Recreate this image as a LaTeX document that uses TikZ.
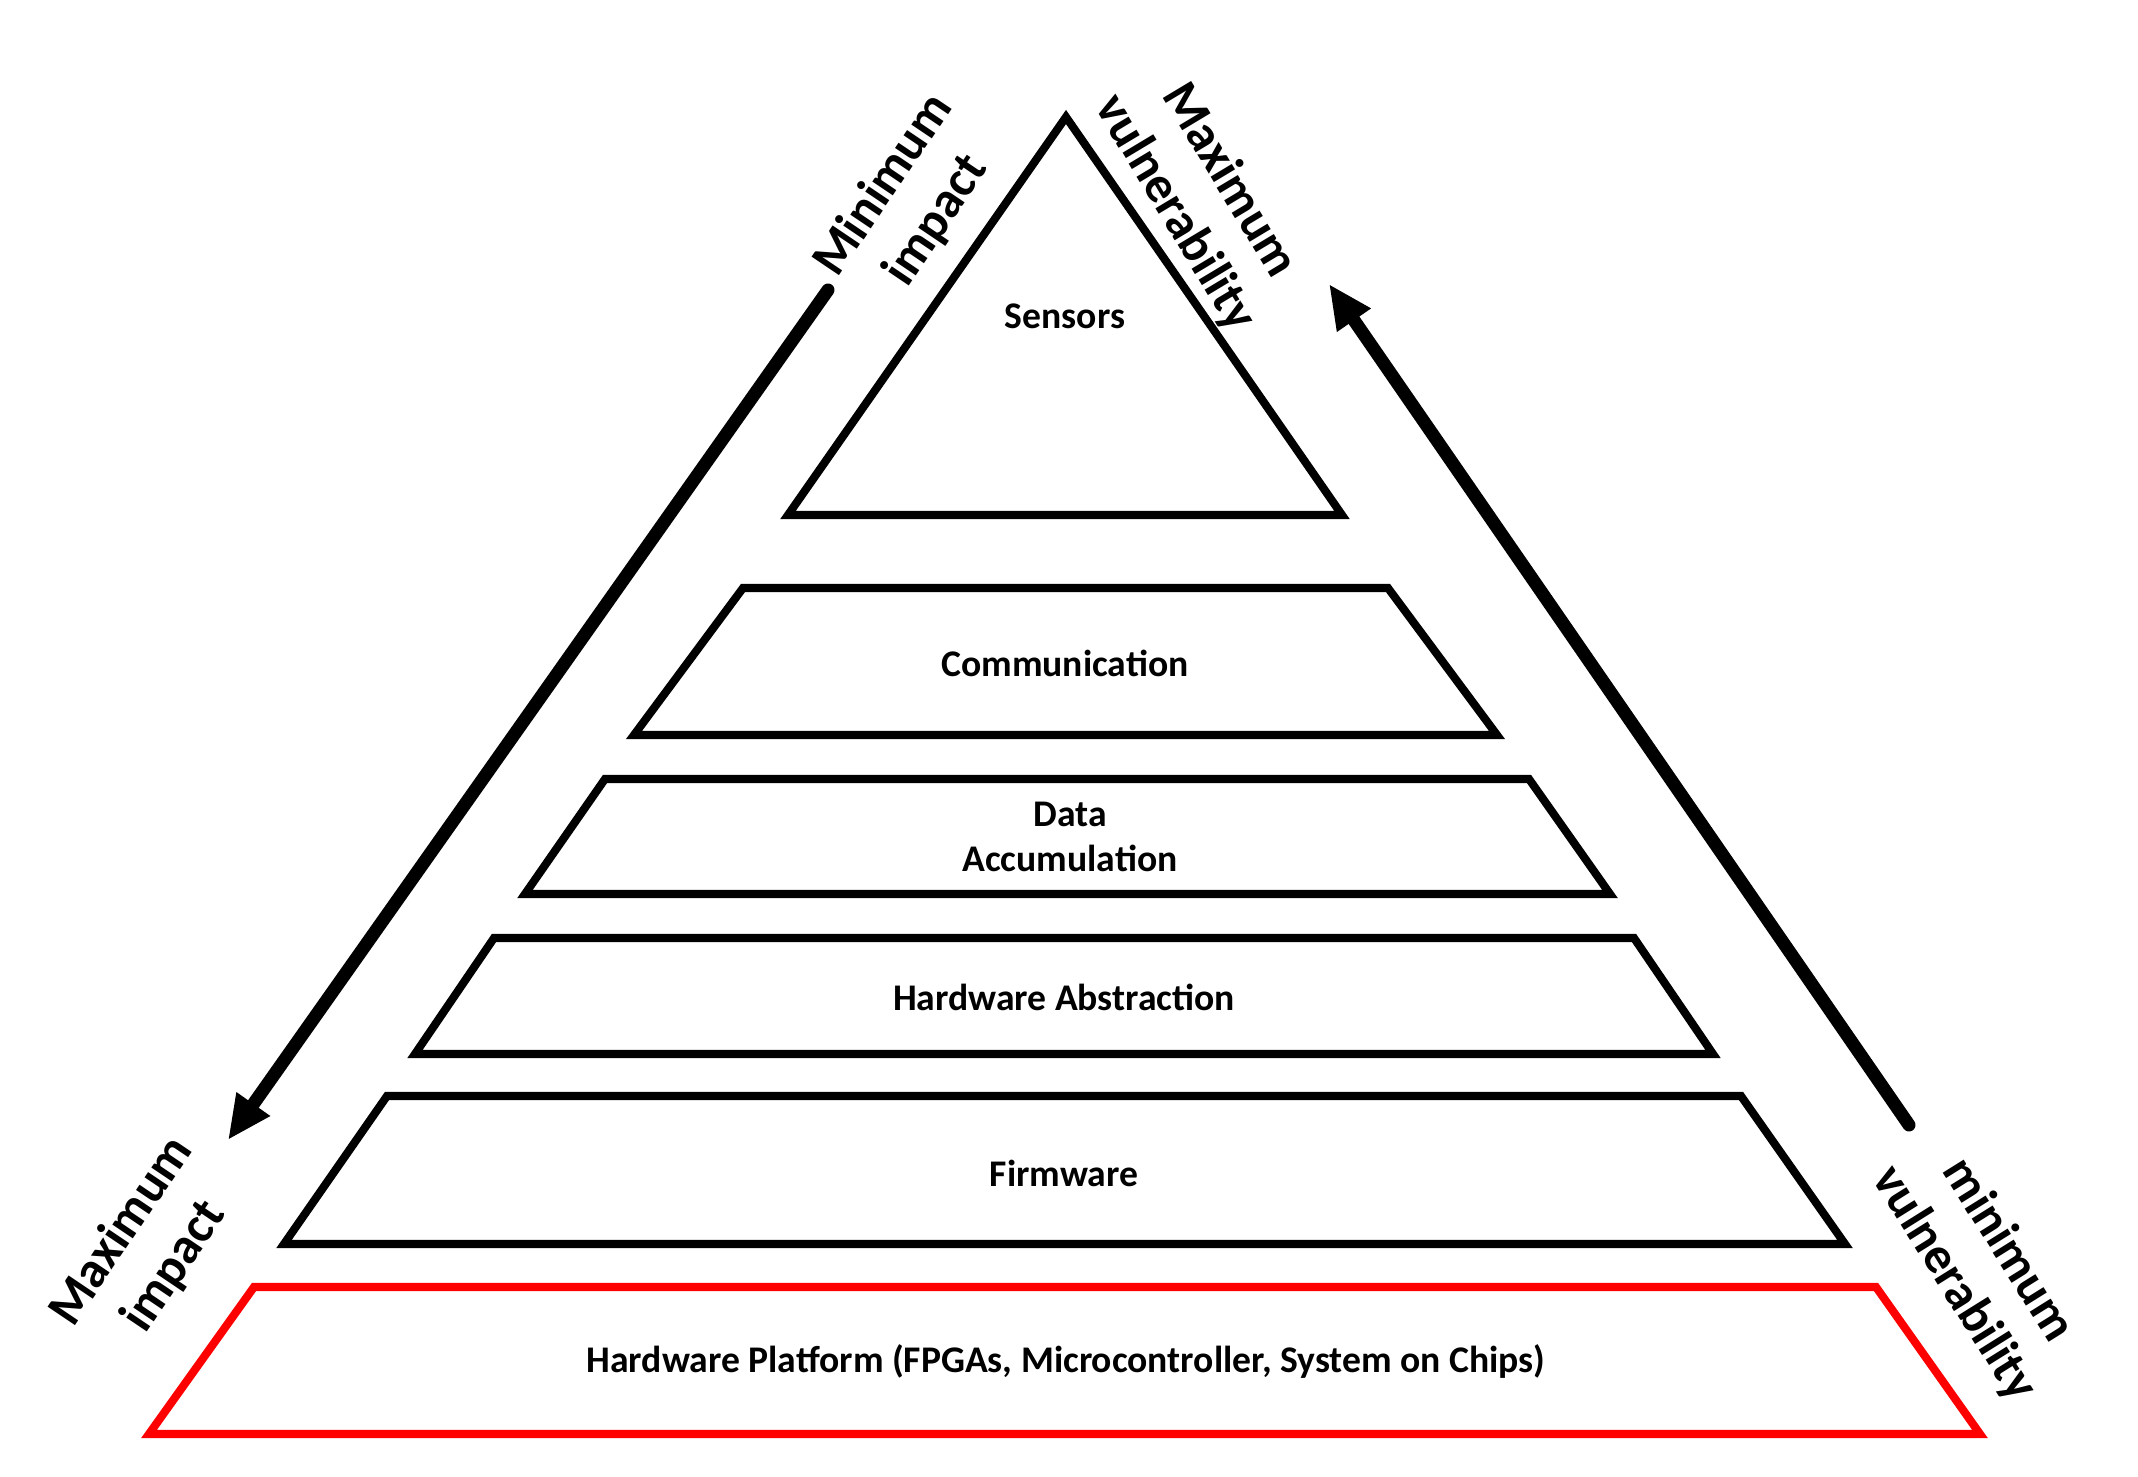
\documentclass[tikz,border=0pt]{standalone}
\usepackage{fontspec}
\setmainfont{Carlito}
\usetikzlibrary{arrows.meta}
\tikzset{
  % outline of one level of the pyramid
  level/.style={draw=black, line width=2.3pt, line join=miter},
  level text/.style={font=\bfseries\fontsize{10.7}{13}\selectfont, align=center},
  side text/.style={font=\bfseries\fontsize{14.5}{18}\selectfont, align=center},
  % the two long arrows along the sides
  side arrow/.style={line width=3.7pt, line cap=round,
    -{Triangle[length=0.44cm,width=0.38cm]}},
}
\begin{document}
\begin{tikzpicture}[x=0.01cm,y=-0.01cm]
  \useasboundingbox (0,0) rectangle (2138,1477);
  % levels, top to bottom
  \draw[level] (1066,117) -- (1342,515) -- (788,515) -- cycle;
  \draw[level] (743,588) -- (1388,588) -- (1497,735) -- (634,735) -- cycle;
  \draw[level] (605,779) -- (1529,779) -- (1610,894) -- (525,894) -- cycle;
  \draw[level] (494,938) -- (1634,938) -- (1713,1054) -- (415,1054) -- cycle;
  \draw[level] (387,1096) -- (1741,1096) -- (1845,1244) -- (284,1244) -- cycle;
  \draw[level, draw=red] (254,1287) -- (1876,1287) -- (1980,1434) -- (149,1434) -- cycle;
  \node[level text] (sensors) at (1065,316) {Sensors};
  \node[level text] (comm) at (1065,663) {Communication};
  \node[level text] (data) at (1070,837) {Data\\Accumulation};
  \node[level text] (hwabs) at (1064,997) {Hardware Abstraction};
  \node[level text] (firmware) at (1064,1173) {Firmware};
  \node[level text] (platform) at (1066,1362) {Hardware Platform (FPGAs, Microcontroller, System on Chips)};
  % side labels
  \node[side text, rotate=56] (minimpact) at (910,203) {Minimum\\impact};
  \node[side text, rotate=56] (maximpact) at (148,1249) {Maximum\\impact};
  \node[side text, rotate=-59] (maxvuln) at (1202,197) {Maximum\\vulnerability};
  \node[side text, rotate=-58] (minvuln) at (1981,1267) {minimum\\vulnerability};
  % arrows
  \coordinate (impact top) at (828,290);
  \coordinate (impact low) at (228,1140);
  \coordinate (vuln low) at (1909,1125);
  \coordinate (vuln top) at (1329,284);
  \draw[side arrow] (impact top) -- (impact low);
  \draw[side arrow] (vuln low) -- (vuln top);
\end{tikzpicture}
\end{document}
